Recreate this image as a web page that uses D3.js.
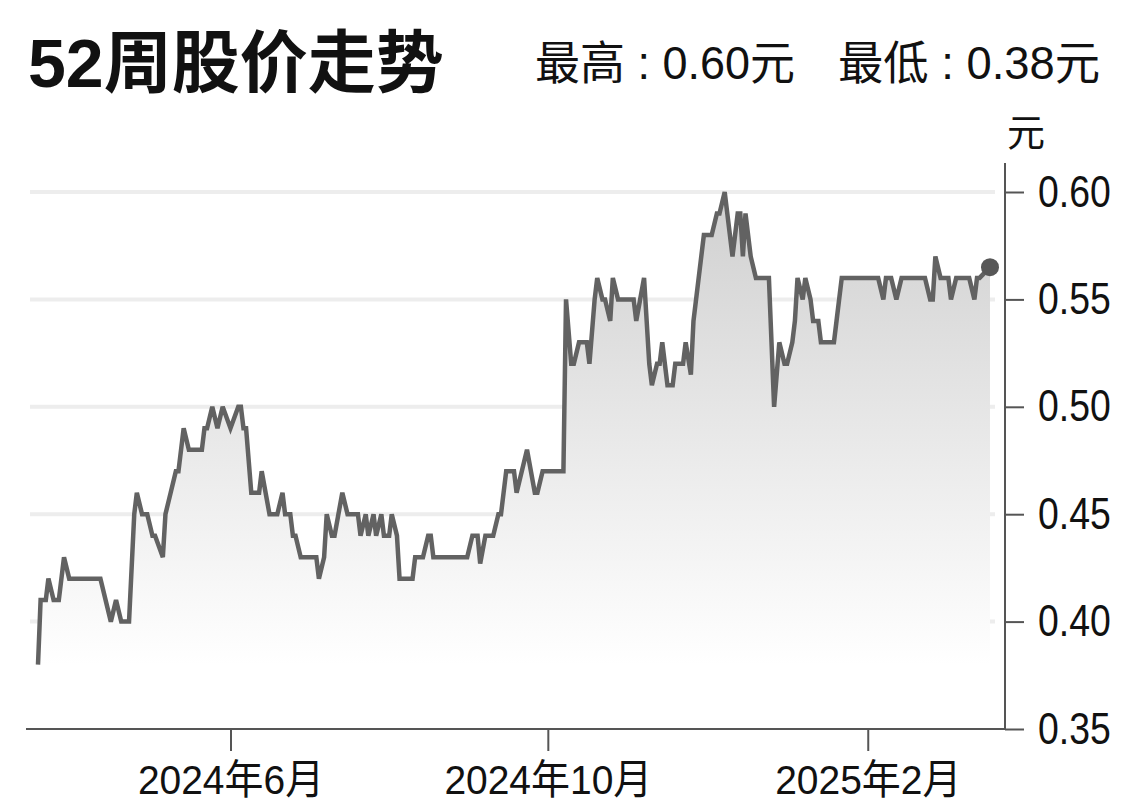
<!DOCTYPE html>
<html>
<head>
<meta charset="utf-8">
<script src="https://cdn.jsdelivr.net/npm/d3@7/dist/d3.min.js"></script>
<style>
  html, body { margin: 0; padding: 0; background: #fff; }
  svg { display: block; }
</style>
</head>
<body>
<svg id="chart" width="1140" height="812"></svg>
<script>
// ---- data ----
const titleText = "52周股价走势";
const highLabel = "最高 : 0.60元";
const lowLabel = "最低 : 0.38元";
const unitLabel = "元";

const dates = [
  "2024-03-19","2024-03-20","2024-03-22","2024-03-23","2024-03-25","2024-03-27","2024-03-29","2024-03-31",
  "2024-04-12","2024-04-16","2024-04-18","2024-04-20","2024-04-23","2024-04-25","2024-04-26","2024-04-28","2024-04-30",
  "2024-05-02","2024-05-03","2024-05-06","2024-05-07","2024-05-09","2024-05-11","2024-05-12","2024-05-14","2024-05-16",
  "2024-05-21","2024-05-22","2024-05-23","2024-05-25","2024-05-27","2024-05-29",
  "2024-06-01","2024-06-04","2024-06-05","2024-06-06","2024-06-07","2024-06-09","2024-06-12","2024-06-13","2024-06-16",
  "2024-06-19","2024-06-21","2024-06-22","2024-06-24","2024-06-25","2024-06-26","2024-06-28",
  "2024-07-04","2024-07-05","2024-07-07","2024-07-08","2024-07-10","2024-07-11","2024-07-14","2024-07-16","2024-07-20",
  "2024-07-21","2024-07-23","2024-07-24","2024-07-26","2024-07-27","2024-07-29","2024-07-30",
  "2024-08-01","2024-08-02","2024-08-04","2024-08-05","2024-08-10","2024-08-11","2024-08-14","2024-08-16","2024-08-17",
  "2024-08-18","2024-08-31",
  "2024-09-02","2024-09-04","2024-09-05","2024-09-07","2024-09-10","2024-09-12","2024-09-13","2024-09-15","2024-09-18",
  "2024-09-19","2024-09-23","2024-09-26","2024-09-27","2024-09-29",
  "2024-10-07","2024-10-08","2024-10-10","2024-10-11","2024-10-13","2024-10-16","2024-10-17","2024-10-19","2024-10-20",
  "2024-10-22","2024-10-23","2024-10-25","2024-10-26","2024-10-28",
  "2024-11-03","2024-11-04","2024-11-07","2024-11-09","2024-11-10","2024-11-12","2024-11-13","2024-11-14","2024-11-16",
  "2024-11-18","2024-11-19","2024-11-22","2024-11-23","2024-11-25","2024-11-26","2024-11-30",
  "2024-12-03","2024-12-05","2024-12-06","2024-12-08","2024-12-11","2024-12-13","2024-12-14","2024-12-15","2024-12-16",
  "2024-12-18","2024-12-20","2024-12-25","2024-12-27","2024-12-29","2024-12-31",
  "2025-01-01","2025-01-03","2025-01-04","2025-01-05","2025-01-07","2025-01-08","2025-01-10","2025-01-11","2025-01-13",
  "2025-01-14","2025-01-19","2025-01-20","2025-01-22",
  "2025-02-05","2025-02-07","2025-02-08","2025-02-10","2025-02-12","2025-02-14","2025-02-23","2025-02-25","2025-02-26",
  "2025-02-27",
  "2025-03-01","2025-03-04","2025-03-05","2025-03-07","2025-03-12","2025-03-14","2025-03-15","2025-03-16","2025-03-20"
];
const prices = [
  0.38,0.41,0.41,0.42,0.41,0.41,0.43,0.42,
  0.42,0.40,0.41,0.40,0.40,0.45,0.46,0.45,0.45,
  0.44,0.44,0.43,0.45,0.46,0.47,0.47,0.49,0.48,
  0.48,0.49,0.49,0.50,0.49,0.50,
  0.49,0.50,0.50,0.49,0.49,0.46,0.46,0.47,0.45,
  0.45,0.46,0.45,0.45,0.44,0.44,0.43,
  0.43,0.42,0.43,0.45,0.44,0.44,0.46,0.45,0.45,
  0.44,0.45,0.44,0.45,0.44,0.45,0.44,
  0.44,0.45,0.44,0.42,0.42,0.43,0.43,0.44,0.44,
  0.43,0.43,
  0.44,0.44,0.427,0.44,0.44,0.45,0.45,0.47,0.47,
  0.46,0.48,0.46,0.46,0.47,
  0.47,0.55,0.52,0.52,0.53,0.53,0.52,0.55,0.56,
  0.55,0.55,0.54,0.56,0.55,
  0.55,0.54,0.56,0.52,0.51,0.52,0.52,0.53,0.51,
  0.51,0.52,0.52,0.53,0.515,0.54,0.58,
  0.58,0.59,0.59,0.60,0.57,0.59,0.59,0.57,0.59,
  0.57,0.56,0.56,0.50,0.53,0.52,
  0.52,0.53,0.54,0.56,0.55,0.56,0.55,0.54,0.54,
  0.53,0.53,0.54,0.56,
  0.56,0.55,0.56,0.56,0.55,0.56,0.56,0.55,0.55,
  0.57,
  0.56,0.56,0.55,0.56,0.56,0.55,0.56,0.56,0.565
];
const yTickValues = [0.35, 0.40, 0.45, 0.50, 0.55, 0.60];
const gridValues = [0.40, 0.45, 0.50, 0.55, 0.60];
const xTickDates = ["2024-06-01", "2024-10-01", "2025-02-01"];
const xDomainDates = ["2024-03-19", "2025-03-20"];
const yDomain = [0.35, 0.60];

// ---- drawing ----
const parse = d3.timeParse("%Y-%m-%d");
const series = dates.map((d, i) => ({ date: parse(d), value: prices[i] }));

const svg = d3.select("#chart");
const cjk = "'Liberation Sans', 'Noto Sans CJK SC', sans-serif";

// condense a text horizontally (reference uses a condensed grotesque)
function condense(sel, k) {
  sel.each(function () {
    const w = this.getComputedTextLength();
    d3.select(this).attr("textLength", w * k).attr("lengthAdjust", "spacingAndGlyphs");
  });
}

const x = d3.scaleTime().domain(xDomainDates.map(parse)).range([38, 990]);
const y = d3.scaleLinear().domain(yDomain).range([729, 192]);

// gradient
const defs = svg.append("defs");
const grad = defs.append("linearGradient")
  .attr("id", "areaGrad")
  .attr("gradientUnits", "userSpaceOnUse")
  .attr("x1", 0).attr("x2", 0)
  .attr("y1", y(0.60)).attr("y2", y(0.38));
grad.append("stop").attr("offset", "0%").attr("stop-color", "#d0d0d0");
grad.append("stop").attr("offset", "55%").attr("stop-color", "#eaeaea");
grad.append("stop").attr("offset", "100%").attr("stop-color", "#ffffff");

// gridlines
svg.append("g").selectAll("line").data(gridValues).join("line")
  .attr("x1", 30).attr("x2", 995)
  .attr("y1", d => y(d)).attr("y2", d => y(d))
  .attr("stroke", "#ededed").attr("stroke-width", 4);

// area
const area = d3.area()
  .x(d => x(d.date))
  .y0(y(0.35))
  .y1(d => y(d.value));
svg.append("path").datum(series)
  .attr("d", area)
  .attr("fill", "url(#areaGrad)");

// line
const line = d3.line().x(d => x(d.date)).y(d => y(d.value));
svg.append("path").datum(series)
  .attr("d", line)
  .attr("fill", "none")
  .attr("stroke", "#626262")
  .attr("stroke-width", 4.5)
  .attr("stroke-linejoin", "miter")
  .attr("stroke-miterlimit", 3);

// end dot
const last = series[series.length - 1];
svg.append("circle")
  .attr("cx", x(last.date)).attr("cy", y(last.value))
  .attr("r", 9).attr("fill", "#575757");

// x axis
const xAxis = d3.axisBottom(x)
  .tickValues(xTickDates.map(parse))
  .tickSize(22)
  .tickPadding(14)
  .tickFormat(d => `${d.getFullYear()}年${d.getMonth() + 1}月`);
const gx = svg.append("g").attr("transform", `translate(0,${y(0.35)})`).call(xAxis);
gx.select(".domain").remove();
gx.selectAll(".tick line").attr("stroke", "#555").attr("stroke-width", 2);
gx.selectAll(".tick text")
  .attr("font-family", cjk).attr("font-size", 41).attr("fill", "#111");
condense(gx.selectAll(".tick text"), 0.95);
svg.append("line")
  .attr("x1", 26).attr("x2", 1005)
  .attr("y1", y(0.35)).attr("y2", y(0.35))
  .attr("stroke", "#555").attr("stroke-width", 2);

// y axis (right)
const yAxis = d3.axisRight(y)
  .tickValues(yTickValues)
  .tickSize(19)
  .tickPadding(14)
  .tickFormat(d3.format(".2f"));
const gy = svg.append("g").attr("transform", "translate(1005,0)").call(yAxis);
gy.select(".domain").remove();
gy.selectAll(".tick line").attr("stroke", "#555").attr("stroke-width", 2);
gy.selectAll(".tick text")
  .attr("font-family", cjk).attr("font-size", 44).attr("fill", "#111");
condense(gy.selectAll(".tick text"), 0.85);
svg.append("line")
  .attr("x1", 1005).attr("x2", 1005)
  .attr("y1", 163).attr("y2", y(0.35))
  .attr("stroke", "#555").attr("stroke-width", 2);

// unit
svg.append("text").attr("x", 1026).attr("y", 146)
  .attr("text-anchor", "middle")
  .attr("font-family", cjk).attr("font-size", 38).attr("fill", "#111")
  .text(unitLabel);

// title
svg.append("text").attr("x", 28).attr("y", 87)
  .attr("font-family", cjk).attr("font-weight", "bold").attr("font-size", 68).attr("fill", "#111")
  .text(titleText);

// high / low
const hi = svg.append("text").attr("x", 535).attr("y", 79)
  .attr("font-family", cjk).attr("font-size", 46).attr("fill", "#111")
  .text(highLabel);
const lo = svg.append("text").attr("x", 838).attr("y", 79)
  .attr("font-family", cjk).attr("font-size", 46).attr("fill", "#111")
  .text(lowLabel);
hi.attr("textLength", 260).attr("lengthAdjust", "spacingAndGlyphs");
lo.attr("textLength", 262).attr("lengthAdjust", "spacingAndGlyphs");
</script>
</body>
</html>
